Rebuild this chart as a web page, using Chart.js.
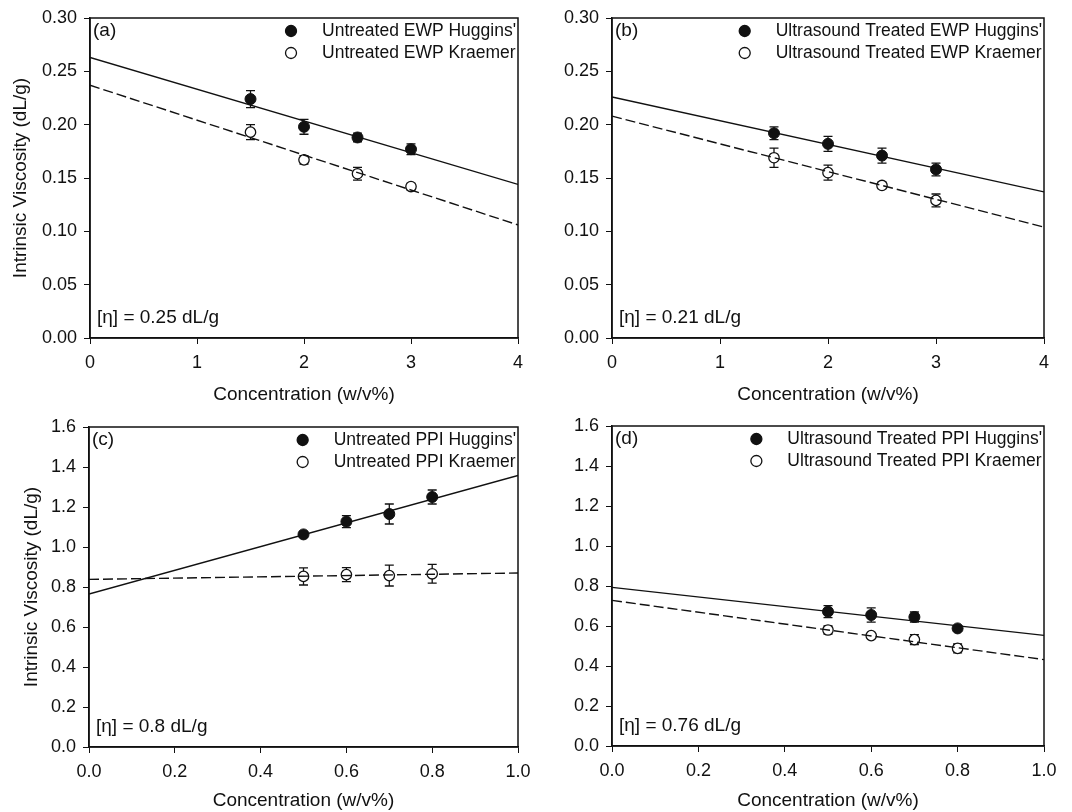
<!DOCTYPE html>
<html>
<head>
<meta charset="utf-8">
<script src="https://cdn.jsdelivr.net/npm/chart.js@4.4.1/dist/chart.umd.min.js"></script>
<style>
  html, body { margin: 0; padding: 0; background: #fff; }
  #wrap { position: relative; width: 1072px; height: 812px; }
  #wrap canvas { position: absolute; }
</style>
</head>
<body>
<div id="wrap">
  <canvas id="pa" width="536" height="406" style="left:0;top:0"></canvas>
  <canvas id="pb" width="536" height="406" style="left:536px;top:0"></canvas>
  <canvas id="pc" width="536" height="406" style="left:0;top:406px"></canvas>
  <canvas id="pd" width="536" height="406" style="left:536px;top:406px"></canvas>
</div>
<script>
// concentrations (w/v%)
const ewpConc = [1.5, 2, 2.5, 3];
const ppiConc = [0.5, 0.6, 0.7, 0.8];
const ewpFitX = [0, 4];
const ppiFitX = [0, 1];

// (a) untreated EWP
const untreatedEwpHuggins = [0.224, 0.198, 0.188, 0.177];
const untreatedEwpHugginsErr = [0.008, 0.007, 0.004, 0.005];
const untreatedEwpKraemer = [0.193, 0.167, 0.154, 0.142];
const untreatedEwpKraemerErr = [0.007, 0.004, 0.006, 0.003];
const untreatedEwpHugginsFit = [0.263, 0.144];
const untreatedEwpKraemerFit = [0.237, 0.106];

// (b) ultrasound treated EWP
const usEwpHuggins = [0.192, 0.182, 0.171, 0.158];
const usEwpHugginsErr = [0.006, 0.007, 0.007, 0.006];
const usEwpKraemer = [0.169, 0.155, 0.143, 0.129];
const usEwpKraemerErr = [0.009, 0.007, 0.003, 0.006];
const usEwpHugginsFit = [0.226, 0.137];
const usEwpKraemerFit = [0.208, 0.104];

// (c) untreated PPI
const untreatedPpiHuggins = [1.063, 1.127, 1.165, 1.25];
const untreatedPpiHugginsErr = [0.015, 0.03, 0.05, 0.035];
const untreatedPpiKraemer = [0.853, 0.862, 0.857, 0.866];
const untreatedPpiKraemerErr = [0.043, 0.035, 0.052, 0.047];
const untreatedPpiHugginsFit = [0.765, 1.358];
const untreatedPpiKraemerFit = [0.838, 0.870];

// (d) ultrasound treated PPI
const usPpiHuggins = [0.672, 0.655, 0.645, 0.588];
const usPpiHugginsErr = [0.03, 0.036, 0.025, 0.012];
const usPpiKraemer = [0.58, 0.552, 0.532, 0.488];
const usPpiKraemerErr = [0.02, 0.01, 0.025, 0.022];
const usPpiHugginsFit = [0.793, 0.553];
const usPpiKraemerFit = [0.728, 0.432];

const panelLetters = ['(a)', '(b)', '(c)', '(d)'];
const etaValues = ['0.25', '0.21', '0.8', '0.76'];
const legendNames = [
  ["Untreated EWP Huggins'", 'Untreated EWP Kraemer'],
  ["Ultrasound Treated EWP Huggins'", 'Ultrasound Treated EWP Kraemer'],
  ["Untreated PPI Huggins'", 'Untreated PPI Kraemer'],
  ["Ultrasound Treated PPI Huggins'", 'Ultrasound Treated PPI Kraemer']
];

const FONT = 'Liberation Sans, Arial, sans-serif';
const INK = '#111';

const pts = (xs, ys) => xs.map((x, i) => ({x: x, y: ys[i]}));

// error bars go under the markers
const errorBars = {
  id: 'errorBars',
  beforeDatasetsDraw(chart) {
    const {ctx, scales: {x, y}} = chart;
    ctx.save();
    ctx.strokeStyle = INK;
    ctx.lineWidth = 1.3;
    chart.data.datasets.forEach(ds => {
      if (!ds.errors) return;
      ds.data.forEach((p, i) => {
        const px = x.getPixelForValue(p.x);
        const y0 = y.getPixelForValue(p.y - ds.errors[i]);
        const y1 = y.getPixelForValue(p.y + ds.errors[i]);
        ctx.beginPath();
        ctx.moveTo(px, y0); ctx.lineTo(px, y1);
        ctx.moveTo(px - 4.5, y0); ctx.lineTo(px + 4.5, y0);
        ctx.moveTo(px - 4.5, y1); ctx.lineTo(px + 4.5, y1);
        ctx.stroke();
      });
    });
    ctx.restore();
  }
};

// frame, legend and text inside the plot
const decorations = {
  id: 'decorations',
  afterDraw(chart, args, opts) {
    const {ctx, chartArea: a} = chart;
    ctx.save();
    ctx.strokeStyle = INK;
    ctx.lineWidth = 1.5;
    ctx.strokeRect(a.left, a.top, a.right - a.left, a.bottom - a.top);

    ctx.fillStyle = INK;
    ctx.textBaseline = 'middle';
    ctx.font = '19px ' + FONT;
    ctx.textAlign = 'left';
    ctx.fillText(opts.letter, a.left + 3, a.top + 13);
    ctx.fillText('[\u03B7] = ' + opts.eta + ' dL/g', a.left + 7, a.bottom - 20);

    ctx.font = '17.5px ' + FONT;
    const w = Math.max(...opts.names.map(n => ctx.measureText(n).width));
    const tx = a.right - 2 - w;
    opts.names.forEach((n, i) => {
      const yy = a.top + 13 + i * 22;
      ctx.beginPath();
      ctx.arc(tx - 31, yy, 5.5, 0, Math.PI * 2);
      ctx.fillStyle = i === 0 ? INK : '#fff';
      ctx.fill();
      ctx.lineWidth = 1.3;
      ctx.stroke();
      ctx.fillStyle = INK;
      ctx.fillText(n, tx, yy);
    });
    ctx.restore();
  }
};

function makePanel(id, p) {
  const datasets = [
    {data: pts(p.fitX, p.hFit), showLine: true, borderColor: INK, borderWidth: 1.4, pointRadius: 0},
    {data: pts(p.fitX, p.kFit), showLine: true, borderColor: INK, borderWidth: 1.4, borderDash: [10, 4], pointRadius: 0},
    {data: pts(p.conc, p.h), errors: p.hErr, pointRadius: 5.5, backgroundColor: INK, borderColor: INK, borderWidth: 1},
    {data: pts(p.conc, p.k), errors: p.kErr, pointRadius: 5.2, backgroundColor: '#fff', borderColor: INK, borderWidth: 1.3}
  ];
  return new Chart(document.getElementById(id), {
    type: 'scatter',
    data: {datasets: datasets},
    plugins: [errorBars, decorations],
    options: {
      responsive: false,
      animation: false,
      events: [],
      layout: {padding: p.pad},
      plugins: {
        legend: {display: false},
        tooltip: {enabled: false},
        decorations: {letter: p.letter, eta: p.eta, names: p.names}
      },
      scales: {
        x: {
          type: 'linear', min: 0, max: p.xMax,
          afterFit: s => { s.height = p.xH; s.paddingLeft = 0; s.paddingRight = 0; },
          border: {color: INK, width: 1.5},
          grid: {drawOnChartArea: false, drawTicks: true, tickLength: 6, color: INK},
          ticks: {
            stepSize: p.xStep, padding: 8, color: INK, font: {family: FONT, size: 18},
            callback: v => v.toFixed(p.xDec)
          },
          title: {display: true, text: 'Concentration (w/v%)', color: INK,
            font: {family: FONT, size: 19}, padding: {top: 0, bottom: p.xTitlePad}}
        },
        y: {
          type: 'linear', min: 0, max: p.yMax,
          afterFit: s => { s.width = p.yW; },
          border: {color: INK, width: 1.5},
          grid: {drawOnChartArea: false, drawTicks: true, tickLength: 6, color: INK},
          ticks: {
            stepSize: p.yStep, padding: 7, color: INK, font: {family: FONT, size: 18},
            callback: v => v.toFixed(p.yDec)
          },
          title: {display: p.yTitle, text: 'Intrinsic Viscosity (dL/g)', color: INK,
            font: {family: FONT, size: 19}, padding: {top: p.yTitlePad, bottom: 0}}
        }
      }
    }
  });
}

const ewpAxes = {xMax: 4, xStep: 1, xDec: 0, yMax: 0.3, yStep: 0.05, yDec: 2};
const ppiAxes = {xMax: 1, xStep: 0.2, xDec: 1, yMax: 1.6, yStep: 0.2, yDec: 1};

makePanel('pa', Object.assign({}, ewpAxes, {
  conc: ewpConc, fitX: ewpFitX,
  h: untreatedEwpHuggins, hErr: untreatedEwpHugginsErr, hFit: untreatedEwpHugginsFit,
  k: untreatedEwpKraemer, kErr: untreatedEwpKraemerErr, kFit: untreatedEwpKraemerFit,
  letter: panelLetters[0], eta: etaValues[0], names: legendNames[0],
  pad: {top: 18, right: 18, left: 0, bottom: 0}, yW: 90, xH: 68,
  yTitle: true, yTitlePad: 9, xTitlePad: 0
}));

makePanel('pb', Object.assign({}, ewpAxes, {
  conc: ewpConc, fitX: ewpFitX,
  h: usEwpHuggins, hErr: usEwpHugginsErr, hFit: usEwpHugginsFit,
  k: usEwpKraemer, kErr: usEwpKraemerErr, kFit: usEwpKraemerFit,
  letter: panelLetters[1], eta: etaValues[1], names: legendNames[1],
  pad: {top: 18, right: 28, left: 0, bottom: 0}, yW: 76, xH: 68,
  yTitle: false, yTitlePad: 0, xTitlePad: 0
}));

makePanel('pc', Object.assign({}, ppiAxes, {
  conc: ppiConc, fitX: ppiFitX,
  h: untreatedPpiHuggins, hErr: untreatedPpiHugginsErr, hFit: untreatedPpiHugginsFit,
  k: untreatedPpiKraemer, kErr: untreatedPpiKraemerErr, kFit: untreatedPpiKraemerFit,
  letter: panelLetters[2], eta: etaValues[2], names: legendNames[2],
  pad: {top: 21, right: 18, left: 0, bottom: 0}, yW: 89, xH: 65,
  yTitle: true, yTitlePad: 20, xTitlePad: 0
}));

makePanel('pd', Object.assign({}, ppiAxes, {
  conc: ppiConc, fitX: ppiFitX,
  h: usPpiHuggins, hErr: usPpiHugginsErr, hFit: usPpiHugginsFit,
  k: usPpiKraemer, kErr: usPpiKraemerErr, kFit: usPpiKraemerFit,
  letter: panelLetters[3], eta: etaValues[3], names: legendNames[3],
  pad: {top: 20, right: 28, left: 0, bottom: 0}, yW: 76, xH: 66,
  yTitle: false, yTitlePad: 0, xTitlePad: 0
}));
</script>
</body>
</html>
